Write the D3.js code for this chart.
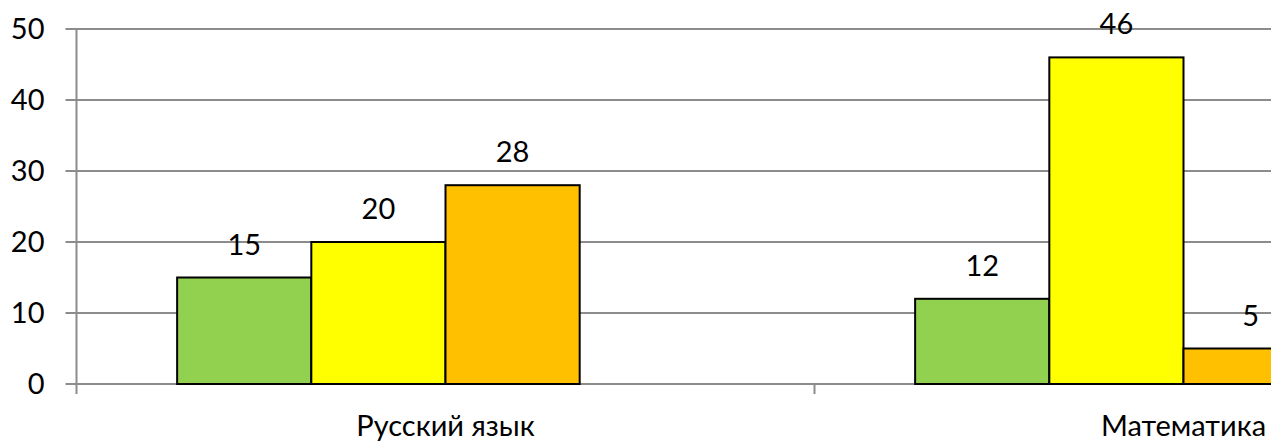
<!DOCTYPE html>
<html>
<head>
<meta charset="utf-8">
<script src="https://cdn.jsdelivr.net/npm/d3@7/dist/d3.min.js"></script>
<style>
  html, body { margin: 0; padding: 0; background: #fff; overflow: hidden; }
  text { font-family: Lato, "Open Sans", sans-serif; fill: #000; }
</style>
</head>
<body>
<svg id="chart" width="1271" height="441"></svg>
<script>
// ---- data ----
const categories = ["Русский язык", "Математика"];
const seriesNames = ["Ряд 1", "Ряд 2", "Ряд 3"];
const seriesColors = ["#92D050", "#FFFF00", "#FFC000"];
const series1 = [15, 12];
const series2 = [20, 46];
const series3 = [28, 5];
const yTicks = [0, 10, 20, 30, 40, 50];
const slotCount = 4; // bar slots per category in the original layout

(function () {
// ---- layout ----
const svg = d3.select("#chart");
const plotLeft = 76.5, plotTop = 29, plotBottom = 384;
const bandWidth = 738;
const fontSize = 29;

const values = [series1, series2, series3];

const x0 = d3.scaleBand()
  .domain(categories)
  .range([plotLeft, plotLeft + bandWidth * categories.length])
  .padding(0);

const x1 = d3.scaleBand()
  .domain(d3.range(slotCount))
  .range([0, x0.bandwidth()])
  .paddingInner(0)
  .paddingOuter(0.75);

const y = d3.scaleLinear().domain([0, 50]).range([plotBottom, plotTop]);

const gridColor = "#8C8C8C";

// gridlines
svg.append("g")
  .selectAll("line")
  .data(yTicks)
  .join("line")
  .attr("x1", plotLeft - 11)
  .attr("x2", 1271)
  .attr("y1", d => y(d))
  .attr("y2", d => y(d))
  .attr("stroke", gridColor)
  .attr("stroke-width", 2);

// y axis line
svg.append("line")
  .attr("x1", plotLeft).attr("x2", plotLeft)
  .attr("y1", y(50)).attr("y2", plotBottom + 10)
  .attr("stroke", gridColor).attr("stroke-width", 2);

// category ticks
svg.append("g")
  .selectAll("line")
  .data(categories.slice(1))
  .join("line")
  .attr("x1", d => x0(d)).attr("x2", d => x0(d))
  .attr("y1", plotBottom).attr("y2", plotBottom + 10)
  .attr("stroke", gridColor).attr("stroke-width", 2);

// y tick labels
svg.append("g")
  .selectAll("text")
  .data(yTicks)
  .join("text")
  .attr("x", plotLeft - 32)
  .attr("y", d => y(d))
  .attr("dy", "0.36em")
  .attr("text-anchor", "end")
  .attr("font-size", fontSize)
  .text(d => d);

// bars
const flat = [];
values.forEach((vals, si) => vals.forEach((v, ci) => flat.push({si, ci, v})));

svg.append("g")
  .selectAll("rect")
  .data(flat)
  .join("rect")
  .attr("x", d => x0(categories[d.ci]) + x1(d.si))
  .attr("y", d => y(d.v))
  .attr("width", x1.bandwidth())
  .attr("height", d => plotBottom - y(d.v))
  .attr("fill", d => seriesColors[d.si])
  .attr("stroke", "#000")
  .attr("stroke-width", 2);

// value labels
svg.append("g")
  .selectAll("text")
  .data(flat)
  .join("text")
  .attr("x", d => x0(categories[d.ci]) + x1(d.si) + x1.bandwidth() / 2)
  .attr("y", d => y(d.v) - 23)
  .attr("text-anchor", "middle")
  .attr("font-size", fontSize)
  .text(d => d.v);

// category labels
svg.append("g")
  .selectAll("text")
  .data(categories)
  .join("text")
  .attr("x", d => x0(d) + x0.bandwidth() / 2)
  .attr("y", 436)
  .attr("text-anchor", "middle")
  .attr("font-size", fontSize)
  .text(d => d);
})();
</script>
</body>
</html>
